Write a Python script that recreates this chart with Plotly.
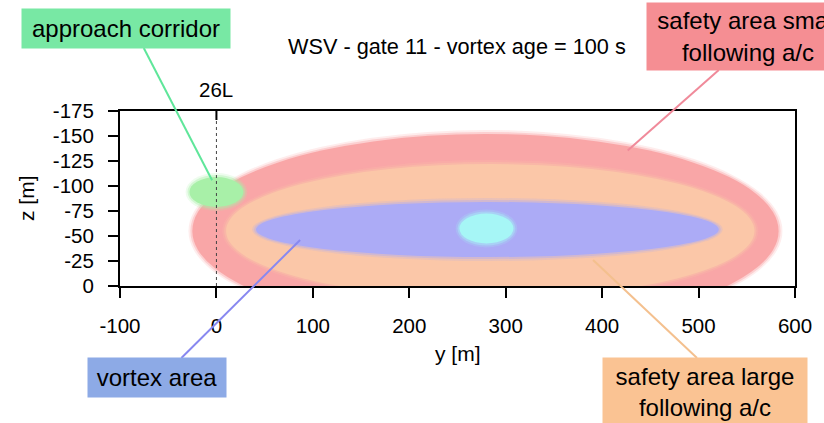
import plotly.graph_objects as go

# ---- data ----
area_names = ["safety area small following a/c", "safety area large following a/c",
              "vortex area", "vortex core", "approach corridor"]
center_y = [279, 284, 281, 280, 0]          # lateral position y [m]
center_z = [-55, -55, -56.5, -57.5, -94]    # height z [m]
half_width = [304, 274, 240, 28, 28]        # semi-axis along y [m]
half_height = [97, 67, 27.5, 15, 15]        # semi-axis along z [m]
fill_colors = ["#F9A6A7", "#FBC7A8", "#ACABF6", "#A6F6F6", "#A8F0A8"]

x_ticks = [-100, 0, 100, 200, 300, 400, 500, 600]
z_ticks = [0, -25, -50, -75, -100, -125, -150, -175]
runway_y = 0
runway_label = "26L"
title_text = "WSV - gate 11 - vortex age = 100 s"

# callout labels: text, box colour, line colour, target point (y, z)
label_texts = ["approach corridor", "safety area small<br>following a/c",
               "vortex area", "safety area large<br>following a/c"]
label_box_colors = ["#78E8A4", "#F58E93", "#8DAAE6", "#FAC393"]
label_line_colors = ["#5FE69A", "#F08A9A", "#8888F0", "#F4C08E"]
label_target_y = [-4.5, 426.5, 86.8, 390.6]
label_target_z = [-105.8, -135.5, -46.0, -26.0]

# ---- layout geometry (pixels) ----
W, H = 824, 423
ML, MR, MT, MB = 120, 22, 111, 137
PW, PH = W - ML - MR, H - MT - MB
XR = [-100, 600]
ZR = [0, -175]


def px_to_paper(px, py):
    return (px - ML) / PW, (H - MB - py) / PH


def data_to_paper(y, z):
    return (y - XR[0]) / (XR[1] - XR[0]), (z - ZR[0]) / (ZR[1] - ZR[0])


# box geometry: center px, width, height, line start px
box_geom = [
    dict(cx=126, cy=28.5, w=208, h=39, lx=144, ly=48),
    dict(cx=755, cy=36.5, w=202, h=67, lx=725, ly=70),
    dict(cx=157, cy=377.5, w=138, h=39, lx=182, ly=358),
    dict(cx=711, cy=392, w=204, h=68, lx=703, ly=358),
]

FONT = "Liberation Sans, Arial, Helvetica, sans-serif"

fig = go.Figure()
fig.add_trace(go.Scatter(x=center_y, y=center_z, mode="markers",
                         marker=dict(opacity=0), hoverinfo="skip", showlegend=False))

shapes = []
# soft halo then solid ellipse for each area
for cy_, cz_, a, b, col in zip(center_y, center_z, half_width, half_height, fill_colors):
    for grow, op in ((4, 0.2), (2, 0.4)):
        shapes.append(dict(type="circle", xref="x", yref="y",
                           x0=cy_ - a - grow, x1=cy_ + a + grow,
                           y0=cz_ - b - grow, y1=cz_ + b + grow,
                           fillcolor=col, opacity=op, line=dict(width=0), layer="below"))
    shapes.append(dict(type="circle", xref="x", yref="y",
                       x0=cy_ - a, x1=cy_ + a, y0=cz_ - b, y1=cz_ + b,
                       fillcolor=col, line=dict(width=0), layer="below"))

# runway marker: dotted line + short solid tick at top
shapes.append(dict(type="line", xref="x", yref="y", x0=runway_y, x1=runway_y,
                   y0=ZR[0], y1=ZR[1], line=dict(color="#444444", width=1, dash="dot")))
shapes.append(dict(type="line", xref="x", yref="y", x0=runway_y, x1=runway_y,
                   y0=ZR[1], y1=ZR[1] + 9, line=dict(color="black", width=2)))

# leader lines
for g, ty, tz, lc in zip(box_geom, label_target_y, label_target_z, label_line_colors):
    x0, y0 = px_to_paper(g["lx"], g["ly"])
    x1, y1 = data_to_paper(ty, tz)
    shapes.append(dict(type="line", xref="paper", yref="paper", x0=x0, y0=y0, x1=x1, y1=y1,
                       line=dict(color=lc, width=2), layer="above"))

annotations = []
for g, txt, bc in zip(box_geom, label_texts, label_box_colors):
    xp, yp = px_to_paper(g["cx"], g["cy"])
    annotations.append(dict(xref="paper", yref="paper", x=xp, y=yp, xanchor="center",
                            yanchor="middle", text=txt, showarrow=False, bgcolor=bc,
                            width=g["w"], height=g["h"], borderpad=0, align="center",
                            font=dict(family=FONT, size=24, color="black")))

# title
tx, ty = px_to_paper(460, 46)
annotations.append(dict(xref="paper", yref="paper", x=tx, y=ty, xanchor="center",
                        yanchor="middle", text=title_text, showarrow=False,
                        font=dict(family=FONT, size=21.7, color="black")))
# runway label
_, ry = px_to_paper(0, 90)
annotations.append(dict(xref="x", yref="paper", x=runway_y, y=ry, xanchor="center",
                        yanchor="middle", text=runway_label, showarrow=False,
                        font=dict(family=FONT, size=20.5, color="black")))
# axis titles
ax_, ay_ = px_to_paper(25, 198)
annotations.append(dict(xref="paper", yref="paper", x=ax_, y=ay_, xanchor="center",
                        yanchor="middle", text="z [m]", textangle=-90, showarrow=False,
                        font=dict(family=FONT, size=21, color="black")))
bx_, by_ = px_to_paper(461, 353)
annotations.append(dict(xref="paper", yref="paper", x=bx_, y=by_, xanchor="center",
                        yanchor="middle", text="y [m]", showarrow=False,
                        font=dict(family=FONT, size=21, color="black")))

axis_common = dict(showline=True, linecolor="black", linewidth=2, mirror=True,
                   ticks="outside", ticklen=10, tickwidth=2, tickcolor="black",
                   showgrid=False, zeroline=False, ticklabelstandoff=10,
                   tickfont=dict(family=FONT, size=20.5, color="black"))

fig.update_layout(
    width=W, height=H,
    margin=dict(l=ML, r=MR, t=MT, b=MB),
    paper_bgcolor="white", plot_bgcolor="white",
    showlegend=False,
    xaxis=dict(range=XR, tickvals=x_ticks, ticktext=[str(v) for v in x_ticks], **axis_common),
    yaxis=dict(range=ZR, tickvals=z_ticks, ticktext=[str(v) for v in z_ticks], **axis_common),
    shapes=shapes,
    annotations=annotations,
)

fig.write_html("out.html")
